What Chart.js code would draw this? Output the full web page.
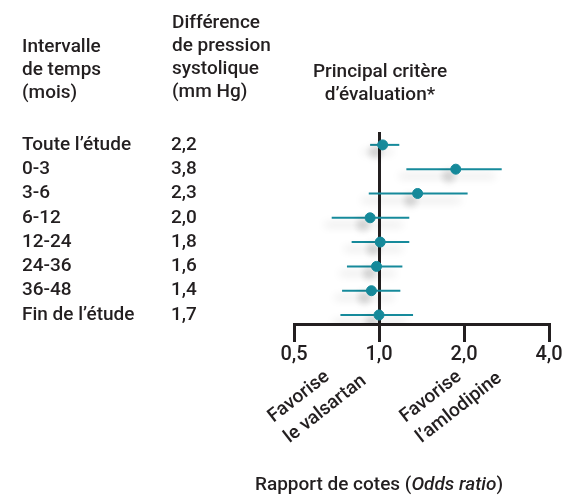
<!DOCTYPE html>
<html>
<head>
<meta charset="utf-8">
<script src="https://cdn.jsdelivr.net/npm/chart.js"></script>
<style>
  html, body { margin: 0; padding: 0; background: #fff; }
  #wrap { width: 575px; height: 497px; position: relative; }
</style>
</head>
<body>
<div id="wrap"><canvas id="forest"></canvas></div>
<script>
// rows of the table / forest plot
const intervals = ['Toute l\u2019étude', '0-3', '3-6', '6-12', '12-24', '24-36', '36-48', 'Fin de l\u2019étude'];
const pressureDiff = [2.2, 3.8, 2.3, 2.0, 1.8, 1.6, 1.4, 1.7];
// odds ratio and confidence interval
const oddsRatio = [1.03, 1.87, 1.37, 0.93, 1.01, 0.98, 0.94, 1.00];
const ciLow = [0.93, 1.25, 0.92, 0.68, 0.80, 0.77, 0.74, 0.73];
const ciHigh = [1.18, 2.72, 2.06, 1.28, 1.28, 1.21, 1.19, 1.32];
const xTicks = [0.5, 1, 2, 4];

const ink = '#231f20';
const teal = '#168a9b';
const FONT = 'Roboto, "Liberation Sans", sans-serif';
const SIZE = 19;

const comma = v => v.toFixed(1).replace('.', ',');

// one little line per confidence interval
const ciSets = intervals.map((name, i) => ({
    type: 'line',
    label: name,
    data: [{ x: ciLow[i], y: i }, { x: ciHigh[i], y: i }],
    borderColor: teal,
    borderWidth: 2,
    pointRadius: 0,
    order: 2
}));

const pointSet = {
    type: 'scatter',
    label: 'OR',
    data: oddsRatio.map((v, i) => ({ x: v, y: i })),
    backgroundColor: teal,
    borderColor: teal,
    pointRadius: 5,
    order: 1
};

// soft grey drop shadow like the printed figure
const shadowPlugin = {
    id: 'shadow',
    beforeDatasetsDraw(chart) {
        const ctx = chart.ctx;
        ctx.save();
        ctx.shadowColor = 'rgba(0,0,0,0.22)';
        ctx.shadowBlur = 8;
        ctx.shadowOffsetX = -7;
        ctx.shadowOffsetY = 7;
    },
    afterDatasetsDraw(chart) {
        chart.ctx.restore();
    }
};

const textPlugin = {
    id: 'tableText',
    afterDraw(chart) {
        const ctx = chart.ctx;
        const y = chart.scales.y;
        const x = chart.scales.x;
        const f = '500 ' + SIZE + 'px ' + FONT;
        const fi = 'italic 500 ' + SIZE + 'px ' + FONT;
        ctx.save();
        ctx.fillStyle = ink;
        ctx.font = f;
        ctx.textBaseline = 'middle';

        // column headers
        ctx.textAlign = 'left';
        ['Intervalle', 'de temps', '(mois)'].forEach((t, k) => ctx.fillText(t, 22, 47 + k * 23));
        ['Différence', 'de pression', 'systolique', '(mm Hg)'].forEach((t, k) => ctx.fillText(t, 172, 23 + k * 23));
        ctx.textAlign = 'center';
        ctx.fillText('Principal critère', 380, 72);
        ctx.fillText('d\u2019évaluation*', 380, 95);

        // table rows, lined up with the plot rows
        ctx.textAlign = 'left';
        intervals.forEach((t, i) => {
            const py = y.getPixelForValue(i);
            ctx.fillText(t, 22, py);
            ctx.fillText(comma(pressureDiff[i]), 171, py);
        });

        // rotated "favours" notes
        const notes = [
            { lines: ['Favorise', 'le valsartan'], px: x.getPixelForValue(0.5) - 22 },
            { lines: ['Favorise', 'l\u2019amlodipine'], px: x.getPixelForValue(1) + 25 }
        ];
        const ang = -38 * Math.PI / 180;
        ctx.textBaseline = 'alphabetic';
        notes.forEach(n => {
            ctx.save();
            ctx.translate(n.px, 424);
            ctx.rotate(ang);
            ctx.textAlign = 'left';
            n.lines.forEach((t, k) => ctx.fillText(t, 2, k * 26));
            ctx.restore();
        });

        // axis title with italic part
        ctx.textBaseline = 'middle';
        const a = 'Rapport de cotes (', b = 'Odds ratio', c = ')';
        ctx.font = f;
        const wa = ctx.measureText(a).width, wc = ctx.measureText(c).width;
        ctx.font = fi;
        const wb = ctx.measureText(b).width;
        const sx = 379 - (wa + wb + wc) / 2;
        ctx.textAlign = 'left';
        ctx.font = f;
        ctx.fillText(a, sx, 485);
        ctx.font = fi;
        ctx.fillText(b, sx + wa, 485);
        ctx.font = f;
        ctx.fillText(c, sx + wa + wb, 485);
        ctx.restore();
    }
};

new Chart(document.getElementById('forest'), {
    data: { datasets: [pointSet, ...ciSets] },
    options: {
        responsive: true,
        maintainAspectRatio: false,
        animation: false,
        layout: { padding: { left: 294, right: 26, top: 132, bottom: 0 } },
        plugins: { legend: { display: false }, tooltip: { enabled: false } },
        scales: {
            x: {
                type: 'logarithmic',
                min: 0.5,
                max: 4,
                afterBuildTicks: s => { s.ticks = xTicks.map(v => ({ value: v })); },
                afterFit: s => { s.height = 173; },
                ticks: {
                    callback: v => comma(v),
                    color: ink,
                    font: { family: FONT, size: 20, weight: '500' },
                    padding: 1,
                    maxRotation: 0,
                    autoSkip: false
                },
                grid: {
                    drawOnChartArea: true,
                    color: c => (c.tick && c.tick.value === 1) ? ink : 'rgba(0,0,0,0)',
                    lineWidth: 3,
                    tickColor: ink,
                    tickWidth: 3,
                    tickLength: 18
                },
                border: { color: ink, width: 3 }
            },
            y: {
                type: 'linear',
                reverse: true,
                min: -0.53,
                max: 7.37,
                display: false
            }
        }
    },
    plugins: [shadowPlugin, textPlugin]
});
</script>
</body>
</html>
